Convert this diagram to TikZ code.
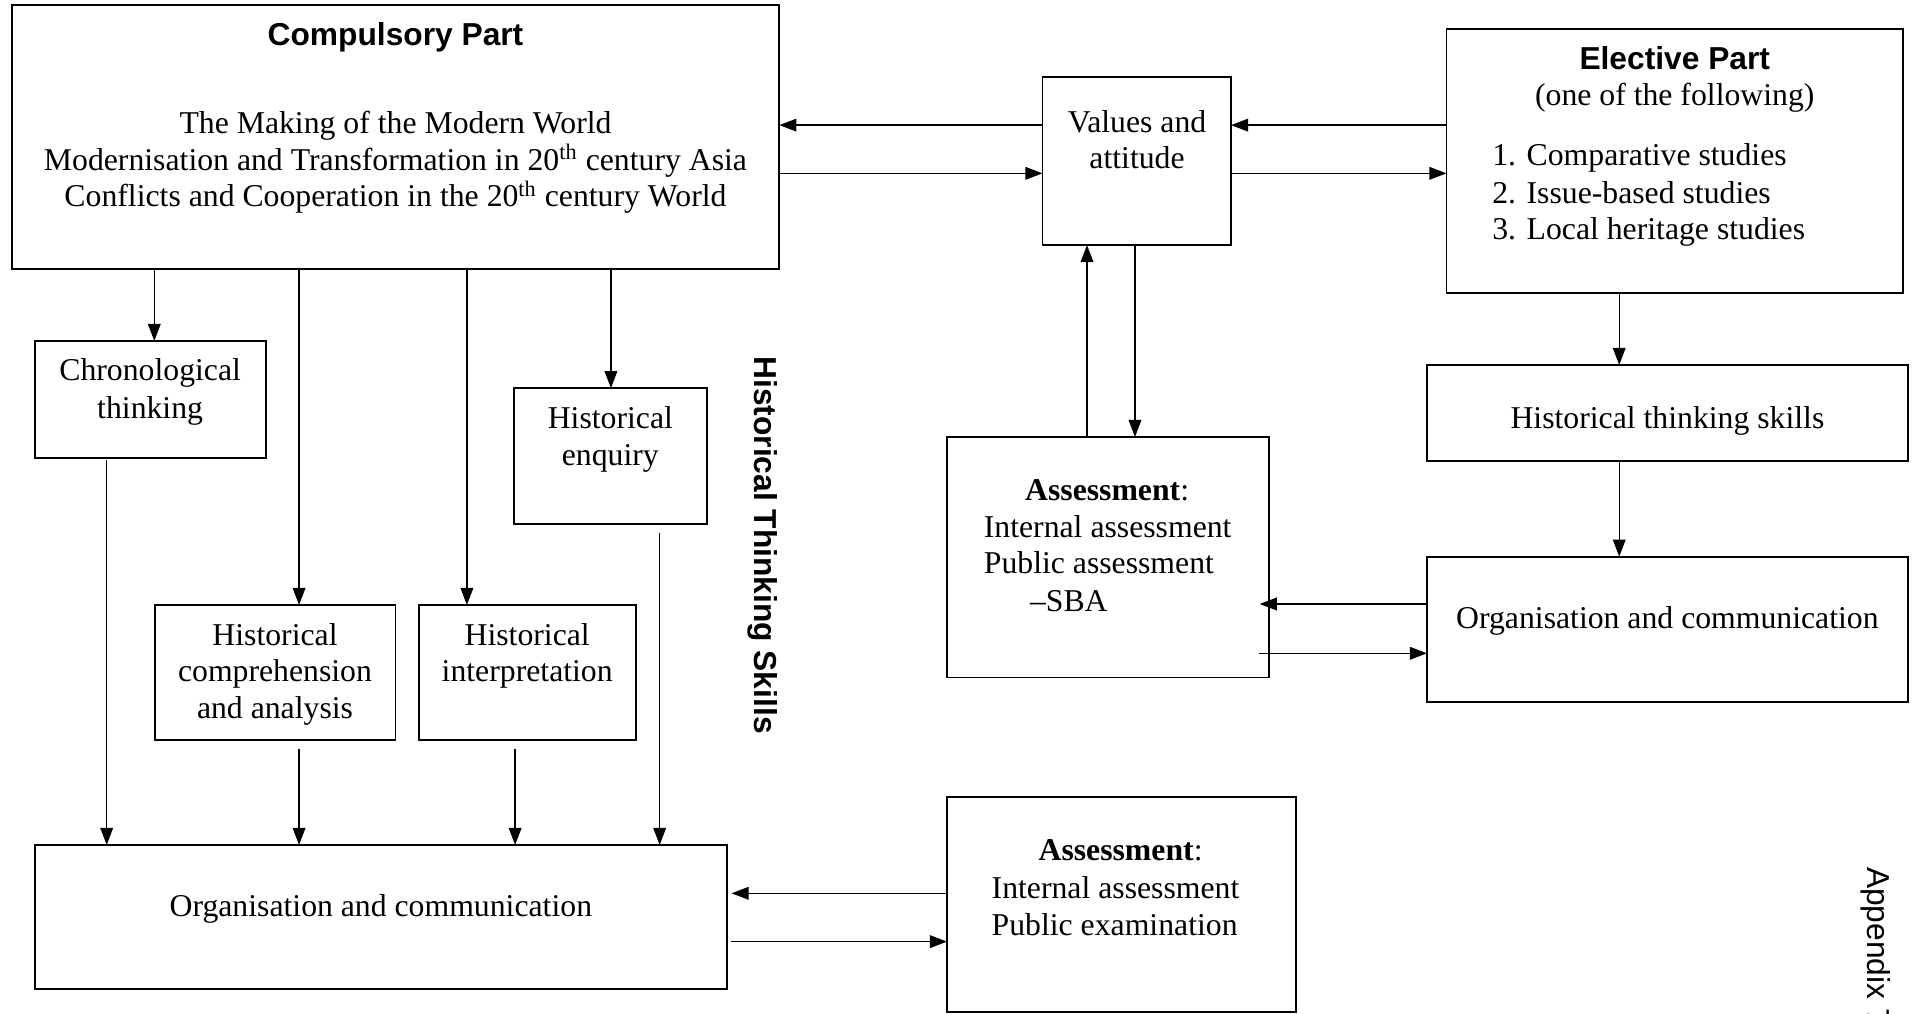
\documentclass[tikz,border=0pt]{standalone}
\usepackage{fontspec}
\setmainfont{Liberation Serif}
\setsansfont{Liberation Sans}
\usetikzlibrary{arrows.meta,fit,calc}
\begin{document}
\begin{tikzpicture}[x=0.5pt,y=-0.5pt,
  box/.style={draw, line width=0.75pt, rectangle, inner sep=0pt, outer sep=0pt},
  txt/.style={inner sep=0pt, outer sep=0pt, anchor=base, font=\fontsize{13}{15}\selectfont},
  txtl/.style={txt, anchor=base west},
  head/.style={txt, font=\fontsize{13}{15}\selectfont\sffamily\bfseries},
  arr/.style={line width=0.55pt, -{Triangle[length=7pt,width=5.2pt]}},
]
\useasboundingbox (0,0) rectangle (1568,830);
\clip (0,0) rectangle (1568,830);

% boxes
\node[box, fit={(9.5,4) (638.5,220.5)}] (comp) {};
\node[box, fit={(854,62.8) (1008.5,200.7)}] (values) {};
\node[box, fit={(1185,24) (1559,239.8)}] (elect) {};
\node[box, fit={(28.4,279.3) (218.2,375.2)}] (chron) {};
\node[box, fit={(421,318) (579,429)}] (enq) {};
\node[box, fit={(126.7,495.6) (324,606.3)}] (compr) {};
\node[box, fit={(343,495.6) (520.7,606.3)}] (interp) {};
\node[box, fit={(28.4,692.2) (595.3,810.5)}] (org1) {};
\node[box, fit={(775.8,652.6) (1062,828.8)}] (asm2) {};
\node[box, fit={(776,358) (1039.6,555)}] (asm1) {};
\node[box, fit={(1169,299) (1563,377.7)}] (hts) {};
\node[box, fit={(1169,456) (1563,574.8)}] (org2) {};

% texts
\node[head] (tcomp) at (324,36.9) {Compulsory Part};
\node[txt] (tc1) at (324,109) {The Making of the Modern World};
\node[txt] (tc2) at (324,139.4) {Modernisation and Transformation in 20\textsuperscript{th} century Asia};
\node[txt] (tc3) at (324,169.3) {Conflicts and Cooperation in the 20\textsuperscript{th} century World};

\node[txt] (tv1) at (931.5,108.7) {Values and};
\node[txt] (tv2) at (931.5,137.9) {attitude};

\node[head] (tel) at (1372,57.3) {Elective Part};
\node[txt] (te0) at (1372,86.8) {(one of the following)};
\node[txtl] (te1) at (1222.5,135.7) {1. Comparative studies};
\node[txtl] (te2) at (1222.5,166.6) {2. Issue-based studies};
\node[txtl] (te3) at (1222.5,196) {3. Local heritage studies};

\node[txt] (tch1) at (123,311.8) {Chronological};
\node[txt] (tch2) at (123,342.7) {thinking};

\node[txt] (ten1) at (500,350.8) {Historical};
\node[txt] (ten2) at (500,381) {enquiry};

\node[txt] (tcr1) at (225.3,528.4) {Historical};
\node[txt] (tcr2) at (225.3,558.4) {comprehension};
\node[txt] (tcr3) at (225.3,588.5) {and analysis};

\node[txt] (tin1) at (431.9,528.4) {Historical};
\node[txt] (tin2) at (431.9,558.4) {interpretation};

\node[txt] (to1) at (312,751) {Organisation and communication};
\node[txt] (to2) at (1366,514.7) {Organisation and communication};
\node[txt] (th) at (1366,350.9) {Historical thinking skills};

\node[txt] (ta1a) at (907,410.4) {\textbf{Assessment}:};
\node[txtl] (ta1b) at (806,440.2) {Internal assessment};
\node[txtl] (ta1c) at (806,470.2) {Public assessment};
\node[txtl] (ta1d) at (843.8,501) {\textendash SBA};

\node[txt] (ta2a) at (918,705) {\textbf{Assessment}:};
\node[txtl] (ta2b) at (812.4,735.9) {Internal assessment};
\node[txtl] (ta2c) at (812.4,766) {Public examination};

\node[inner sep=0pt, font=\fontsize{13}{15}\selectfont\sffamily\bfseries, rotate=-90] (hlabel) at (625,446.5) {Historical Thinking Skills};
\node[inner sep=0pt, font=\fontsize{13}{15}\selectfont\sffamily, rotate=-90, anchor=base west] (app) at (1530,710) {Appendix 7};

% helper coordinates
\coordinate (c1) at (126.4,0);
\coordinate (c2) at (245,0);
\coordinate (c3) at (382.5,0);
\coordinate (c4) at (500.5,0);
\coordinate (d1) at (87.4,0);
\coordinate (d3) at (422,0);
\coordinate (d4) at (540.4,0);
\coordinate (r1) at (0,102.5);
\coordinate (r2) at (0,142);
\coordinate (v1) at (890.5,0);
\coordinate (v2) at (929.8,0);
\coordinate (s1) at (0,494.8);
\coordinate (s2) at (0,535.2);
\coordinate (e1) at (1326.5,0);
\coordinate (b1) at (0,731.8);
\coordinate (b2) at (0,771.4);

% connectors
\draw[arr] (values.west |- r1) -- (comp.east |- r1);
\draw[arr] (comp.east |- r2) -- (values.west |- r2);
\draw[arr] (elect.west |- r1) -- (values.east |- r1);
\draw[arr] (values.east |- r2) -- (elect.west |- r2);

\draw[arr] (comp.south -| c1) -- (chron.north -| c1);
\draw[arr] (comp.south -| c2) -- (compr.north -| c2);
\draw[arr] (comp.south -| c3) -- (interp.north -| c3);
\draw[arr] (comp.south -| c4) -- (enq.north -| c4);

\draw[arr] ($(chron.south -| d1)+(0,2)$) -- (org1.north -| d1);
\draw[arr] ($(compr.south -| c2)+(0,7.3)$) -- (org1.north -| c2);
\draw[arr] ($(interp.south -| d3)+(0,7.3)$) -- (org1.north -| d3);
\draw[arr] ($(enq.south -| d4)+(0,7.4)$) -- (org1.north -| d4);

\draw[arr] (asm2.west |- b1) -- ($(org1.east |- b1)+(4,0)$);
\draw[arr] ($(org1.east |- b2)+(3.3,0)$) -- (asm2.west |- b2);

\draw[arr] (asm1.north -| v1) -- (values.south -| v1);
\draw[arr] (values.south -| v2) -- (asm1.north -| v2);

\draw[arr] (org2.west |- s1) -- ($(asm1.east |- s1)+(-7.6,0)$);
\draw[arr] ($(asm1.east |- s2)+(-8.6,0)$) -- (org2.west |- s2);

\draw[arr] (elect.south -| e1) -- (hts.north -| e1);
\draw[arr] (hts.south -| e1) -- (org2.north -| e1);
\end{tikzpicture}
\end{document}
